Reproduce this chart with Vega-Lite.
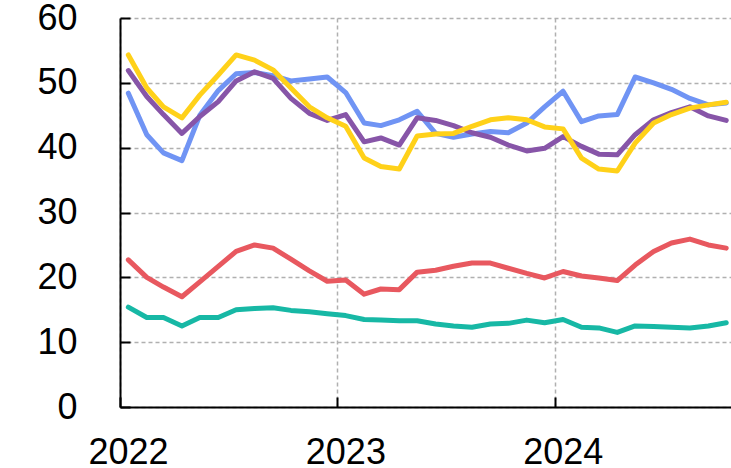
{
  "$schema": "https://vega.github.io/schema/vega-lite/v6.json",
  "autosize": "none",
  "width": 611,
  "height": 389,
  "padding": {"left": 120, "top": 18, "right": 0, "bottom": 61},
  "background": "white",
  "config": {
    "view": {"stroke": null},
    "axis": {
      "labelFont": "Liberation Sans",
      "labelFontSize": 36,
      "labelColor": "#000000",
      "domainColor": "#000000",
      "domainWidth": 2,
      "tickColor": "#000000",
      "tickWidth": 2,
      "tickSize": -10,
      "gridColor": "#b0b0b0",
      "gridDash": [4, 3],
      "gridWidth": 1.5,
      "title": null
    }
  },
  "data": {
    "values": [
      {"date": "2022-01-15", "S1": 48.4, "S2": 51.9, "S3": 54.3, "S4": 22.7, "S5": 15.4},
      {"date": "2022-02-15", "S1": 42.0, "S2": 47.9, "S3": 49.2, "S4": 20.0, "S5": 13.8},
      {"date": "2022-03-15", "S1": 39.2, "S2": 45.1, "S3": 46.3, "S4": 18.5, "S5": 13.8},
      {"date": "2022-04-15", "S1": 38.0, "S2": 42.2, "S3": 44.6, "S4": 17.0, "S5": 12.5},
      {"date": "2022-05-15", "S1": 45.0, "S2": 44.8, "S3": 48.1, "S4": 19.3, "S5": 13.8},
      {"date": "2022-06-15", "S1": 48.8, "S2": 47.1, "S3": 51.2, "S4": 21.7, "S5": 13.8},
      {"date": "2022-07-15", "S1": 51.4, "S2": 50.3, "S3": 54.3, "S4": 24.0, "S5": 15.0},
      {"date": "2022-08-15", "S1": 51.6, "S2": 51.7, "S3": 53.5, "S4": 25.0, "S5": 15.2},
      {"date": "2022-09-15", "S1": 51.1, "S2": 50.7, "S3": 52.0, "S4": 24.5, "S5": 15.3},
      {"date": "2022-10-15", "S1": 50.3, "S2": 47.6, "S3": 49.2, "S4": 22.8, "S5": 14.9},
      {"date": "2022-11-15", "S1": 50.6, "S2": 45.3, "S3": 46.3, "S4": 21.0, "S5": 14.7},
      {"date": "2022-12-15", "S1": 50.9, "S2": 44.2, "S3": 44.6, "S4": 19.4, "S5": 14.4},
      {"date": "2023-01-15", "S1": 48.5, "S2": 45.1, "S3": 43.3, "S4": 19.6, "S5": 14.1},
      {"date": "2023-02-15", "S1": 43.8, "S2": 40.9, "S3": 38.4, "S4": 17.4, "S5": 13.5},
      {"date": "2023-03-15", "S1": 43.4, "S2": 41.5, "S3": 37.1, "S4": 18.2, "S5": 13.4},
      {"date": "2023-04-15", "S1": 44.3, "S2": 40.4, "S3": 36.7, "S4": 18.1, "S5": 13.3},
      {"date": "2023-05-15", "S1": 45.6, "S2": 44.6, "S3": 41.8, "S4": 20.8, "S5": 13.3},
      {"date": "2023-06-15", "S1": 42.2, "S2": 44.2, "S3": 42.1, "S4": 21.1, "S5": 12.8},
      {"date": "2023-07-15", "S1": 41.6, "S2": 43.4, "S3": 42.2, "S4": 21.7, "S5": 12.5},
      {"date": "2023-08-15", "S1": 42.1, "S2": 42.3, "S3": 43.3, "S4": 22.2, "S5": 12.3},
      {"date": "2023-09-15", "S1": 42.5, "S2": 41.6, "S3": 44.3, "S4": 22.2, "S5": 12.8},
      {"date": "2023-10-15", "S1": 42.3, "S2": 40.4, "S3": 44.6, "S4": 21.4, "S5": 12.9},
      {"date": "2023-11-15", "S1": 43.8, "S2": 39.5, "S3": 44.3, "S4": 20.6, "S5": 13.4},
      {"date": "2023-12-15", "S1": 46.3, "S2": 39.9, "S3": 43.2, "S4": 19.9, "S5": 13.0},
      {"date": "2024-01-15", "S1": 48.7, "S2": 41.7, "S3": 42.9, "S4": 20.9, "S5": 13.5},
      {"date": "2024-02-15", "S1": 44.0, "S2": 40.2, "S3": 38.4, "S4": 20.2, "S5": 12.3},
      {"date": "2024-03-15", "S1": 44.9, "S2": 39.0, "S3": 36.7, "S4": 19.9, "S5": 12.2},
      {"date": "2024-04-15", "S1": 45.1, "S2": 38.9, "S3": 36.4, "S4": 19.5, "S5": 11.5},
      {"date": "2024-05-15", "S1": 50.9, "S2": 42.0, "S3": 40.7, "S4": 21.9, "S5": 12.5},
      {"date": "2024-06-15", "S1": 50.0, "S2": 44.3, "S3": 43.8, "S4": 24.0, "S5": 12.4},
      {"date": "2024-07-15", "S1": 49.0, "S2": 45.4, "S3": 45.1, "S4": 25.3, "S5": 12.3},
      {"date": "2024-08-15", "S1": 47.6, "S2": 46.3, "S3": 46.1, "S4": 25.9, "S5": 12.2},
      {"date": "2024-09-15", "S1": 46.6, "S2": 44.9, "S3": 46.6, "S4": 25.0, "S5": 12.5},
      {"date": "2024-10-15", "S1": 46.9, "S2": 44.2, "S3": 47.0, "S4": 24.5, "S5": 13.0}
    ]
  },
  "transform": [
    {"fold": ["S1", "S2", "S3", "S4", "S5"], "as": ["series", "value"]}
  ],
  "mark": {"type": "line", "strokeWidth": 5, "strokeCap": "round", "strokeJoin": "round", "clip": true},
  "encoding": {
    "x": {
      "field": "date",
      "type": "temporal",
      "scale": {
        "type": "utc",
        "domain": [
          {"year": 2022, "month": 1, "date": 1, "utc": true},
          {"year": 2024, "month": 10, "date": 23, "utc": true}
        ]
      },
      "axis": {
        "values": [
          {"year": 2022, "month": 1, "date": 1, "utc": true},
          {"year": 2023, "month": 1, "date": 1, "utc": true},
          {"year": 2024, "month": 1, "date": 1, "utc": true}
        ],
        "format": "%Y",
        "grid": true,
        "labelPadding": 38,
        "labelOffset": 8,
        "labelFlush": false,
        "labelOverlap": false
      }
    },
    "y": {
      "field": "value",
      "type": "quantitative",
      "scale": {"domain": [0, 60], "nice": false},
      "axis": {
        "values": [0, 10, 20, 30, 40, 50, 60],
        "grid": true,
        "labelPadding": 53
      }
    },
    "color": {
      "field": "series",
      "type": "nominal",
      "scale": {
        "domain": ["S1", "S2", "S3", "S4", "S5"],
        "range": ["#7094f4", "#8755a8", "#ffd119", "#e8585f", "#17b8a5"]
      },
      "legend": null
    }
  }
}
